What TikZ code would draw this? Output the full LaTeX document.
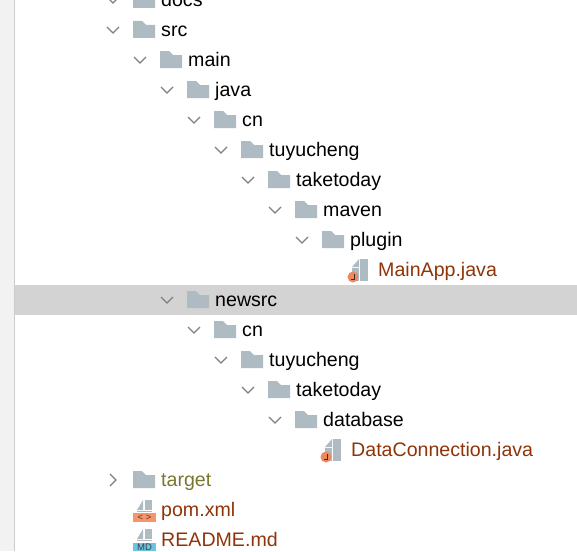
\documentclass[tikz,border=0pt]{standalone}
\usepackage{xcolor}
\usepackage{fontspec}
\setmainfont{Liberation Sans}
\definecolor{foldergrey}{HTML}{AFBBC3}
\definecolor{filebrown}{HTML}{8F3409}
\definecolor{targetolive}{HTML}{7A7630}
\definecolor{arrowgrey}{HTML}{7F7F7F}
\definecolor{bandgrey}{HTML}{D3D3D3}
\definecolor{badgeorange}{HTML}{F0885F}
\definecolor{xmlorange}{HTML}{F9946A}
\definecolor{mdblue}{HTML}{6CC4E4}
\tikzset{
  entry/.style = {anchor=base west, inner sep=0pt, yshift=-0.8pt, font=\fontsize{19.6}{22}\selectfont},
  srcfile/.style = {entry, text=filebrown},
  tagtext/.style = {inner sep=0pt, text=black!75, font=\fontsize{9.5}{10}\selectfont},
  folder/.pic = {
    \fill[foldergrey] (0,-9) -- (9,-9) -- (13,-5) -- (22,-5) -- (22,8) -- (0,8) -- cycle;
  },
  open/.pic = {
    \draw[arrowgrey, line width=1.2pt] (-6,-3) -- (0,3) -- (6,-3);
  },
  closed/.pic = {
    \draw[arrowgrey, line width=1.2pt] (-3,-6) -- (3,0) -- (-3,6);
  },
  javafile/.pic = {
    \fill[foldergrey] (1,-11) -- (1,-3) -- (-6,-3) -- cycle;
    \fill[foldergrey] (2,-11) rectangle (10,11);
    \fill[foldergrey] (-6,-2) rectangle (1,11);
    \fill[badgeorange] (-5,7) circle (5.5);
    \draw[black!80, line width=0.8pt] (-3.5,4) -- (-3.5,9) -- (-7,9);
  },
  stub/.pic = {
    \fill[foldergrey] (0,-11) -- (0,-1) -- (-6,-1) -- cycle;
    \fill[foldergrey] (2,-11) rectangle (9,-1);
    \fill[foldergrey] (-6,0) rectangle (9,1);
  },
}
\begin{document}
\begin{tikzpicture}[x=1pt, y=-1pt]
\useasboundingbox (0,0) rectangle (577,551);
\clip (0,0) rectangle (577,551);
\fill[black!5] (0,0) rectangle (14,551);
\draw[black!20, line width=1pt] (14.5,0) -- (14.5,551);
\fill[bandgrey] (15,285) rectangle (577,315);
% tree
\pic at (113,0) {open};   \pic at (133,0) {folder};   \node[entry] (docs) at (161,6) {docs};
\pic at (113,30) {open};  \pic at (133,30) {folder};  \node[entry] (src) at (161,36) {src};
\pic at (140,60) {open};  \pic at (160,60) {folder};  \node[entry] (main) at (188,66) {main};
\pic at (167,90) {open};  \pic at (187,90) {folder};  \node[entry] (java) at (215,96) {java};
\pic at (194,120) {open}; \pic at (214,120) {folder}; \node[entry] (cn1) at (242,126) {cn};
\pic at (221,150) {open}; \pic at (241,150) {folder}; \node[entry] (tuyucheng1) at (269,156) {tuyucheng};
\pic at (248,180) {open}; \pic at (268,180) {folder}; \node[entry] (taketoday1) at (296,186) {taketoday};
\pic at (275,210) {open}; \pic at (295,210) {folder}; \node[entry] (maven) at (323,216) {maven};
\pic at (302,240) {open}; \pic at (322,240) {folder}; \node[entry] (plugin) at (350,246) {plugin};
\pic at (358,270) {javafile}; \node[srcfile] (mainapp) at (378,276) {MainApp.java};
% newsrc
\pic at (167,300) {open}; \pic at (187,300) {folder}; \node[entry] (newsrc) at (215,306) {newsrc};
\pic at (194,330) {open}; \pic at (214,330) {folder}; \node[entry] (cn2) at (242,336) {cn};
\pic at (221,360) {open}; \pic at (241,360) {folder}; \node[entry] (tuyucheng2) at (269,366) {tuyucheng};
\pic at (248,390) {open}; \pic at (268,390) {folder}; \node[entry] (taketoday2) at (296,396) {taketoday};
\pic at (275,420) {open}; \pic at (295,420) {folder}; \node[entry] (database) at (323,426) {database};
\pic at (331,450) {javafile}; \node[srcfile] (dataconn) at (351,456) {DataConnection.java};
% project files
\pic at (113,480) {closed}; \pic at (133,480) {folder};
\node[entry, text=targetolive] (target) at (161,486) {target};
\pic at (143,511) {stub};
\fill[xmlorange] (133,513) rectangle (156,522);
\node[tagtext] (xmltag) at (144.5,517.5) {< >};
\node[srcfile] (pom) at (161,516) {pom.xml};
\pic at (143,540) {stub};
\fill[mdblue] (133,543) rectangle (156,551);
\node[tagtext] (mdtag) at (144.5,547) {MD};
\node[srcfile] (readme) at (161,546) {README.md};
\end{tikzpicture}
\end{document}
